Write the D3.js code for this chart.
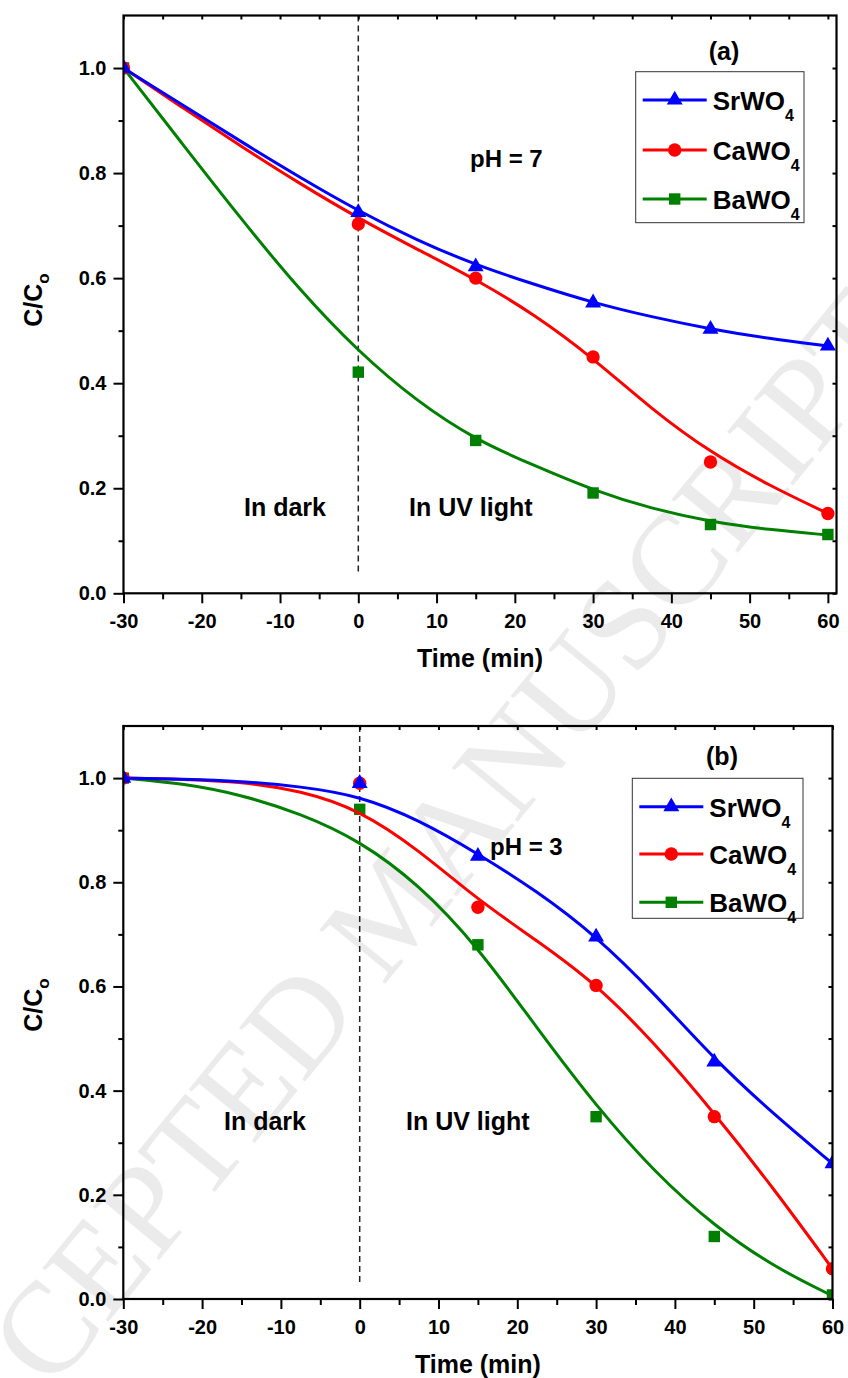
<!DOCTYPE html>
<html>
<head>
<meta charset="utf-8">
<script src="https://cdn.jsdelivr.net/npm/d3@7"></script>
<style>
  body { margin: 0; background: #fff; }
  text { font-family: Arial, "Liberation Sans", sans-serif; font-weight: bold; }
</style>
</head>
<body>
<svg id="chart" width="848" height="1378"></svg>
<script>
// measured points
const time = [-30, 0, 15, 30, 45, 60];
const srA = [1.0, 0.725, 0.622, 0.553, 0.503, 0.471];
const caA = [1.0, 0.703, 0.600, 0.450, 0.250, 0.152];
const baA = [1.0, 0.421, 0.291, 0.191, 0.131, 0.112];
const srB = [1.0, 0.990, 0.850, 0.695, 0.455, 0.260];
const caB = [1.0, 0.990, 0.752, 0.602, 0.350, 0.058];
const baB = [1.0, 0.940, 0.680, 0.350, 0.120, 0.008];

// fitted curves
const fitTime = [-30, -22.5, -15, -7.5, 0, 7.5, 15, 22.5, 30, 37.5, 45, 52.5, 60];
const srFitA = [1.0, 0.930, 0.860, 0.792, 0.728, 0.672, 0.625, 0.588, 0.553, 0.526, 0.503, 0.485, 0.471];
const caFitA = [1.0, 0.925, 0.851, 0.780, 0.714, 0.655, 0.598, 0.531, 0.448, 0.350, 0.268, 0.205, 0.152];
const baFitA = [1.0, 0.856, 0.713, 0.577, 0.460, 0.365, 0.292, 0.243, 0.196, 0.161, 0.136, 0.121, 0.111];
const srFitB = [1.0, 0.998, 0.994, 0.984, 0.966, 0.920, 0.855, 0.783, 0.697, 0.585, 0.460, 0.355, 0.260];
const caFitB = [1.0, 0.998, 0.993, 0.976, 0.939, 0.862, 0.766, 0.688, 0.605, 0.490, 0.357, 0.213, 0.058];
const baFitB = [1.0, 0.990, 0.968, 0.932, 0.880, 0.796, 0.676, 0.520, 0.370, 0.242, 0.140, 0.062, 0.006];

const xTicks = [-30, -20, -10, 0, 10, 20, 30, 40, 50, 60];
const xMinor = [-25, -15, -5, 5, 15, 25, 35, 45, 55];
const yTicks = [0, 0.2, 0.4, 0.6, 0.8, 1.0];
const yMinor = [0.1, 0.3, 0.5, 0.7, 0.9];
const names = ["SrWO", "CaWO", "BaWO"];
const colors = ["#0000ff", "#ff0000", "#008000"];
const shapes = [d3.symbolTriangle, d3.symbolCircle, d3.symbolSquare];
const symSize = [110, 140, 130];

const svg = d3.select("#chart");

// watermark
svg.append("text")
    .attr("transform", "translate(425,935) rotate(-50.7)")
    .attr("text-anchor", "middle")
    .style("font-family", "'Liberation Serif', 'Times New Roman', serif")
    .style("font-weight", "normal")
    .style("font-size", "130px")
    .attr("fill", "#ebebeb")
    .text("ACCEPTED MANUSCRIPT");

function drawPanel(p) {
    const x = d3.scaleLinear().domain([-30, p.xMax]).range([p.left, p.right]);
    const y = d3.scaleLinear().domain([0, 1.1]).range([p.bottom, p.top]);
    const g = svg.append("g");

    const clipId = "clip" + p.id;
    g.append("clipPath").attr("id", clipId)
        .append("rect")
        .attr("x", p.left).attr("y", p.top)
        .attr("width", p.right - p.left).attr("height", p.bottom - p.top);

    // dashed separator at t = 0
    g.append("line")
        .attr("x1", x(0)).attr("x2", x(0))
        .attr("y1", p.top).attr("y2", p.dashEnd)
        .attr("stroke", "#222").attr("stroke-width", 1.5)
        .attr("stroke-dasharray", "6,4");

    const plot = g.append("g").attr("clip-path", `url(#${clipId})`);
    const line = d3.line().x(d => x(d[0])).y(d => y(d[1])).curve(d3.curveBasis);

    // draw Ba, Ca, Sr so Sr ends on top
    [2, 1, 0].forEach(i => {
        const fit = fitTime.map((t, j) => [t, p.fits[i][j]]);
        plot.append("path").datum(fit)
            .attr("d", line)
            .attr("fill", "none")
            .attr("stroke", colors[i])
            .attr("stroke-width", 3);
        plot.selectAll(null)
            .data(time.map((t, j) => [t, p.points[i][j]]))
            .enter().append("path")
            .attr("transform", d => `translate(${x(d[0])},${y(d[1])})`)
            .attr("d", d3.symbol().type(shapes[i]).size(symSize[i]))
            .attr("fill", colors[i]);
    });

    // axes
    g.append("g").attr("transform", `translate(0,${p.bottom})`)
        .call(d3.axisBottom(x).tickValues(xTicks).tickSize(10).tickPadding(11).tickFormat(d => String(d)));
    g.append("g").attr("transform", `translate(0,${p.bottom})`)
        .call(d3.axisBottom(x).tickValues(xMinor).tickSize(6).tickFormat(""));
    g.append("g").attr("transform", `translate(${p.left},0)`)
        .call(d3.axisLeft(y).tickValues(yTicks).tickSize(10).tickPadding(7).tickFormat(d => d.toFixed(1)));
    g.append("g").attr("transform", `translate(${p.left},0)`)
        .call(d3.axisLeft(y).tickValues(yMinor).tickSize(5).tickFormat(""));
    g.append("g").attr("transform", `translate(0,${p.top})`)
        .call(d3.axisTop(x).tickValues(xTicks.concat(xMinor)).tickSize(-4).tickFormat(""));
    g.append("g").attr("transform", `translate(${p.right},0)`)
        .call(d3.axisRight(y).tickValues(yTicks.concat(yMinor)).tickSize(-4).tickFormat(""));

    g.selectAll(".domain").remove();
    g.selectAll(".tick line").attr("stroke", "#000").attr("stroke-width", 2);
    g.selectAll(".tick text").style("font-size", "20px").attr("fill", "#000");

    g.append("rect")
        .attr("x", p.left).attr("y", p.top)
        .attr("width", p.right - p.left).attr("height", p.bottom - p.top)
        .attr("fill", "none").attr("stroke", "#000").attr("stroke-width", 2.2);

    // axis titles
    g.append("text")
        .attr("x", (p.left + p.right) / 2).attr("y", p.bottom + 74)
        .attr("text-anchor", "middle")
        .style("font-size", "25px")
        .text("Time (min)");

    const yt = g.append("text")
        .attr("transform", `translate(42,${p.yTitle}) rotate(-90)`)
        .attr("text-anchor", "middle")
        .style("font-size", "25px");
    yt.append("tspan").text("C/C");
    yt.append("tspan").attr("dy", 7).style("font-size", "17px").text("o");

    // annotations
    g.append("text").attr("x", p.tag[0]).attr("y", p.tag[1])
        .attr("text-anchor", "middle").style("font-size", "25px").text(p.tagText);
    g.append("text").attr("x", p.ph[0]).attr("y", p.ph[1])
        .style("font-size", "24px").text(p.phText);
    g.append("text").attr("x", p.dark[0]).attr("y", p.dark[1])
        .style("font-size", "25px").text("In dark");
    g.append("text").attr("x", p.uv[0]).attr("y", p.uv[1])
        .style("font-size", "25px").text("In UV light");

    // legend
    const lg = g.append("g");
    lg.append("rect")
        .attr("x", p.legend.x0).attr("y", p.legend.y0)
        .attr("width", p.legend.x1 - p.legend.x0).attr("height", p.legend.y1 - p.legend.y0)
        .attr("fill", "#fff").attr("stroke", "#333").attr("stroke-width", 1);
    names.forEach((n, i) => {
        const ry = p.legend.rows[i];
        lg.append("line")
            .attr("x1", p.legend.lx).attr("x2", p.legend.lx + 64)
            .attr("y1", ry).attr("y2", ry)
            .attr("stroke", colors[i]).attr("stroke-width", 3);
        lg.append("path")
            .attr("transform", `translate(${p.legend.lx + 32},${ry})`)
            .attr("d", d3.symbol().type(shapes[i]).size(symSize[i]))
            .attr("fill", colors[i]);
        const t = lg.append("text")
            .attr("x", p.legend.lx + 70).attr("y", ry + 10)
            .style("font-size", "26px");
        t.append("tspan").text(n);
        t.append("tspan").attr("dy", 11).style("font-size", "16px").text("4");
    });
}

drawPanel({
    id: "a", left: 123.5, right: 836.5, top: 15.5, bottom: 593.3, xMax: 61.1,
    dashEnd: 575, yTitle: 300,
    points: [srA, caA, baA], fits: [srFitA, caFitA, baFitA],
    tag: [724, 60], tagText: "(a)",
    ph: [470, 167], phText: "pH = 7",
    dark: [244, 516], uv: [409, 516],
    legend: { x0: 635.7, x1: 804, y0: 71.7, y1: 222.7, lx: 642.7, rows: [100, 150, 199] }
});

drawPanel({
    id: "b", left: 123.3, right: 832.5, top: 726, bottom: 1299, xMax: 60,
    dashEnd: 1284, yTitle: 1005,
    points: [srB, caB, baB], fits: [srFitB, caFitB, baFitB],
    tag: [722, 765], tagText: "(b)",
    ph: [490, 855], phText: "pH = 3",
    dark: [224, 1130], uv: [406, 1130],
    legend: { x0: 632.3, x1: 803, y0: 778.3, y1: 918.3, lx: 639.3, rows: [806.7, 854, 902.3] }
});
</script>
</body>
</html>
